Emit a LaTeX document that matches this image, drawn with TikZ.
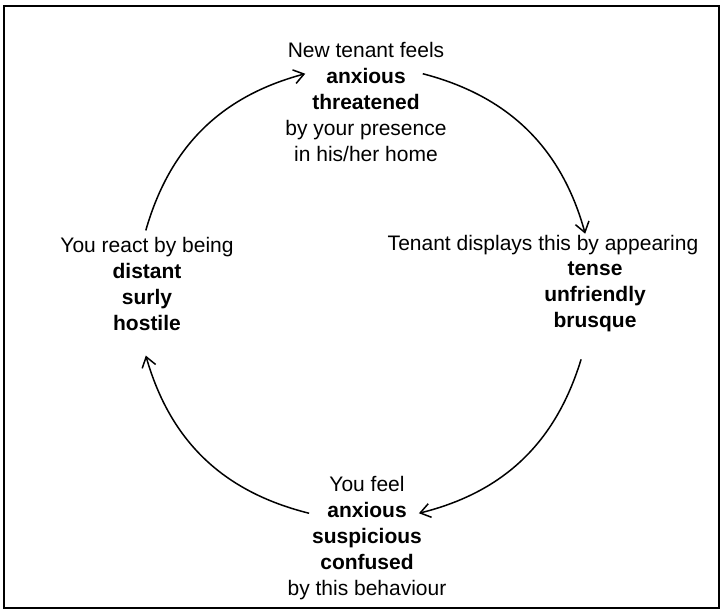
\documentclass[tikz,border=0pt]{standalone}
\usepackage{fontspec}
\setmainfont{Liberation Sans}
\usetikzlibrary{arrows.meta}
\tikzset{
  label text/.style={align=center, inner sep=0pt, font=\fontsize{21}{26}\selectfont},
  cycle arrow/.style={line width=1.5pt, -{Straight Barb[length=10pt,width=14pt,line width=1.5pt]}},
  frame line/.style={line width=2pt}
}
\begin{document}
\begin{tikzpicture}[x=1pt,y=1pt]
  \useasboundingbox (0,0) rectangle (722,610);
  \draw[frame line] (3.5,2) rectangle (719,603.5);

  % the four stages of the cycle
  \node[label text] (top) at (366,508) {New tenant feels\\ \textbf{anxious}\\ \textbf{threatened}\\ by your presence\\ in his/her home};
  \node[label text] (rtitle) at (543,365) {Tenant displays this by appearing};
  \node[label text] (rwords) at (595,313) {\textbf{tense}\\ \textbf{unfriendly}\\ \textbf{brusque}};
  \node[label text] (bottom) at (367,71.5) {You feel\\ \textbf{anxious}\\ \textbf{suspicious}\\ \textbf{confused}\\ by this behaviour};
  \node[label text] (left) at (147,326) {You react by being\\ \textbf{distant}\\ \textbf{surly}\\ \textbf{hostile}};

  % arrow ends on a circle round the hub
  \coordinate (hub) at (364,317);
  \path (hub) ++(164:227) coordinate (aS);
  \path (hub) ++(105:227) coordinate (aE);
  \path (hub) ++(75:227)  coordinate (bS);
  \path (hub) ++(15:229)  coordinate (bE);
  \path (hub) ++(-17:227) coordinate (cS);
  \path (hub) ++(-76:227) coordinate (cE);
  \path (hub) ++(-104:227) coordinate (dS);
  \path (hub) ++(-164:227) coordinate (dE);

  \draw[cycle arrow] (aS) to[bend left=29.5] (aE);
  \draw[cycle arrow] (bS) to[bend left=30] (bE);
  \draw[cycle arrow] (cS) to[bend left=29.5] (cE);
  \draw[cycle arrow] (dS) to[bend left=30] (dE);
\end{tikzpicture}
\end{document}
